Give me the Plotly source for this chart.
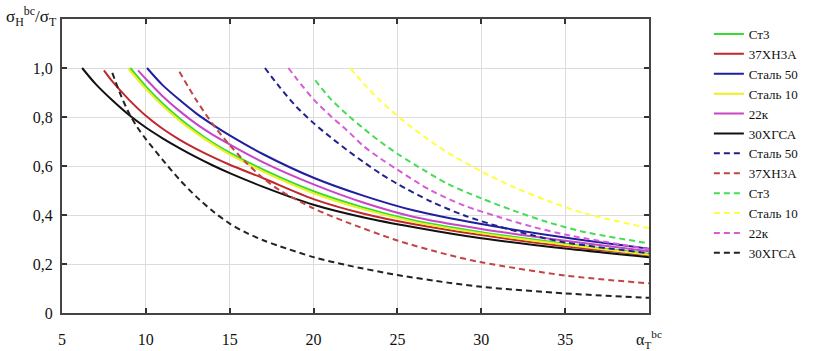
import plotly.graph_objects as go

# ---------- data ----------
# solid curves
st3_x = [9.07, 10, 11, 12, 13, 14, 15, 17, 20, 23, 26, 30, 35, 40]
st3_y = [1.0, 0.925, 0.855, 0.795, 0.742, 0.695, 0.655, 0.585, 0.497, 0.43, 0.378, 0.33, 0.283, 0.242]

h37_x = [7.5, 8, 9, 10, 11, 12, 13, 14, 15, 17, 20, 23, 26, 30, 35, 40]
h37_y = [0.99, 0.945, 0.87, 0.805, 0.752, 0.708, 0.67, 0.636, 0.605, 0.55, 0.465, 0.405, 0.362, 0.318, 0.272, 0.236]

s50_x = [10.07, 11, 12, 13, 14, 15, 17, 20, 23, 26, 30, 35, 40]
s50_y = [1.0, 0.93, 0.87, 0.815, 0.768, 0.725, 0.648, 0.552, 0.478, 0.418, 0.363, 0.308, 0.262]

s10_x = [8.95, 10, 11, 12, 13, 14, 15, 17, 20, 23, 26, 30, 35, 40]
s10_y = [0.998, 0.915, 0.846, 0.786, 0.734, 0.688, 0.647, 0.577, 0.489, 0.423, 0.372, 0.325, 0.279, 0.238]

k22_x = [9.53, 10, 11, 12, 13, 14, 15, 17, 20, 23, 26, 30, 35, 40]
k22_y = [0.99, 0.955, 0.885, 0.825, 0.772, 0.727, 0.688, 0.615, 0.525, 0.45, 0.392, 0.343, 0.295, 0.252]

hg30_x = [6.2, 7, 8, 9, 10, 11, 12, 13, 14, 15, 17, 20, 23, 26, 30, 35, 40]
hg30_y = [1.0, 0.935, 0.868, 0.808, 0.757, 0.713, 0.673, 0.636, 0.602, 0.571, 0.515, 0.442, 0.39, 0.35, 0.305, 0.263, 0.228]

# dashed curves
s50d_x = [17.1, 18, 19, 20, 21, 22, 23, 24, 25, 27, 29, 31, 33, 35, 40]
s50d_y = [1.0, 0.92, 0.84, 0.775, 0.718, 0.665, 0.615, 0.568, 0.527, 0.455, 0.398, 0.354, 0.318, 0.288, 0.244]

h37d_x = [12.0, 13, 14, 15, 16, 17, 18, 20, 22, 25, 28, 30, 35, 40]
h37d_y = [0.985, 0.87, 0.77, 0.685, 0.612, 0.55, 0.5, 0.427, 0.37, 0.296, 0.238, 0.207, 0.153, 0.121]

st3d_x = [20.1, 21, 22, 23, 24, 25, 26, 28, 30, 32, 34, 36, 40]
st3d_y = [0.95, 0.875, 0.81, 0.752, 0.698, 0.65, 0.607, 0.527, 0.468, 0.416, 0.37, 0.333, 0.284]

s10d_x = [22.2, 23, 24, 25, 26, 27, 28, 30, 32, 34, 36, 40]
s10d_y = [1.0, 0.935, 0.865, 0.805, 0.75, 0.7, 0.655, 0.578, 0.512, 0.457, 0.41, 0.346]

k22d_x = [18.5, 19, 20, 21, 22, 23, 24, 25, 27, 29, 31, 33, 35, 40]
k22d_y = [1.0, 0.955, 0.872, 0.805, 0.745, 0.68, 0.63, 0.585, 0.5, 0.438, 0.393, 0.353, 0.32, 0.26]

hg30d_x = [8.0, 8.5, 9, 9.5, 10, 11, 12, 13, 14, 15, 16, 17, 18, 20, 22, 25, 28, 30, 35, 40]
hg30d_y = [0.98, 0.89, 0.815, 0.757, 0.71, 0.625, 0.545, 0.475, 0.415, 0.365, 0.327, 0.297, 0.272, 0.228, 0.195, 0.155, 0.124, 0.107, 0.08, 0.062]

x_ticks = [5, 10, 15, 20, 25, 30, 35, 40]
x_ticktext = ["5", "10", "15", "20", "25", "30", "35", "α<sub>T</sub><sup>bc</sup>"]
y_ticks = [0, 0.2, 0.4, 0.6, 0.8, 1.0]
y_ticktext = ["0", "0,2", "0,4", "0,6", "0,8", "1,0"]

DASH = "6px,4px"
series = [
    ("Ст3", st3_x, st3_y, "#33dd33", "solid"),
    ("37ХН3А", h37_x, h37_y, "#c0282d", "solid"),
    ("Сталь 50", s50_x, s50_y, "#1f1fa0", "solid"),
    ("Сталь 10", s10_x, s10_y, "#eeee22", "solid"),
    ("22к", k22_x, k22_y, "#c845c8", "solid"),
    ("30ХГСА", hg30_x, hg30_y, "#111111", "solid"),
    ("Сталь 50", s50d_x, s50d_y, "#22228a", DASH),
    ("37ХН3А", h37d_x, h37d_y, "#c24444", DASH),
    ("Ст3", st3d_x, st3d_y, "#44dd55", DASH),
    ("Сталь 10", s10d_x, s10d_y, "#ffff40", DASH),
    ("22к", k22d_x, k22d_y, "#d75bd7", DASH),
    ("30ХГСА", hg30d_x, hg30d_y, "#222222", DASH),
]

FONT = "'Liberation Serif', 'Times New Roman', 'DejaVu Serif', serif"

fig = go.Figure()
for name, xs, ys, col, dash in series:
    fig.add_trace(go.Scatter(
        x=xs, y=ys, mode="lines", name=name,
        line=dict(color=col, width=2, dash=dash, shape="spline", smoothing=0.8),
    ))

axis_common = dict(
    showline=True, linewidth=2, linecolor="#444444", mirror="ticks",
    ticks="inside", ticklen=5, tickwidth=1.5, tickcolor="#333333",
    showgrid=True, gridcolor="#dcdcdc", gridwidth=1, zeroline=False,
    automargin=False,
    tickfont=dict(family=FONT, size=16, color="#111111"),
)

fig.update_xaxes(range=[5, 40], tickvals=x_ticks, ticktext=x_ticktext,
                 ticklabelstandoff=11, **axis_common)
fig.update_yaxes(range=[0, 1.2], tickvals=y_ticks, ticktext=y_ticktext,
                 ticklabelstandoff=4, **axis_common)

fig.add_annotation(
    text="σ<sub>H</sub><sup>bc</sup>/σ<sub>T</sub>",
    xref="paper", yref="paper", x=0, y=1, xanchor="right", yanchor="middle",
    xshift=-3, yshift=3, showarrow=False,
    font=dict(family=FONT, size=17, color="#111111"),
)

fig.update_layout(
    width=817, height=351,
    margin=dict(l=62, r=168, t=19, b=38),
    paper_bgcolor="white", plot_bgcolor="white",
    font=dict(family=FONT, size=13, color="#111111"),
    legend=dict(x=1.102, xanchor="left", y=1.0, yanchor="top",
                bgcolor="rgba(0,0,0,0)", borderwidth=0,
                font=dict(family=FONT, size=13, color="#111111"),
                tracegroupgap=0),
    showlegend=True,
)

fig.write_html("out.html")
